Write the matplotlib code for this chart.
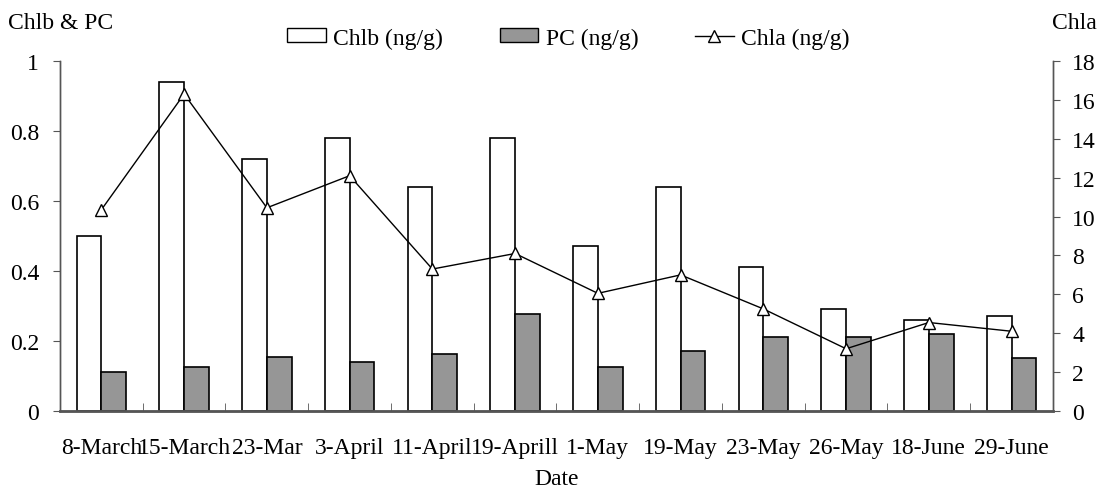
import matplotlib
matplotlib.use("Agg")
import matplotlib.pyplot as plt
import numpy as np
from matplotlib.patches import Patch
from matplotlib.lines import Line2D

plt.rcParams['font.family'] = ['Liberation Serif', 'DejaVu Serif']

dates = ["8-March", "15-March", "23-Mar", "3-April", "11-April", "19-Aprill",
         "1-May", "19-May", "23-May", "26-May", "18-June", "29-June"]
chlb = [0.50, 0.94, 0.72, 0.78, 0.64, 0.78, 0.47, 0.64, 0.41, 0.29, 0.26, 0.27]
pc = [0.11, 0.127, 0.155, 0.139, 0.164, 0.277, 0.127, 0.171, 0.212, 0.212, 0.22, 0.15]
chla = [10.35, 16.3, 10.45, 12.1, 7.3, 8.1, 6.05, 7.0, 5.25, 3.2, 4.55, 4.1]
left_ticks = [0, 0.2, 0.4, 0.6, 0.8, 1.0]
left_labels = ["0", "0.2", "0.4", "0.6", "0.8", "1"]
right_ticks = [0, 2, 4, 6, 8, 10, 12, 14, 16, 18]

FS = 17
fig = plt.figure(figsize=(10.99, 4.89), dpi=100)
ax = fig.add_axes([0.0546, 0.1575, 0.9035, 0.7157])
ax2 = ax.twinx()

x = np.arange(len(dates))
w = 0.3
spine_c = '#555555'
ax.bar(x - w/2, chlb, width=w, color='white', edgecolor='black', linewidth=1.2, zorder=2)
ax.bar(x + w/2, pc, width=w, color='#969696', edgecolor='black', linewidth=1.2, zorder=2)
ax2.plot(x, chla, color='black', linewidth=1.0, marker='^', markersize=9,
         markerfacecolor='white', markeredgecolor='black', markeredgewidth=1.0)

ax.set_xlim(-0.5, len(dates) - 0.5)
ax.set_ylim(0, 1)
ax2.set_ylim(0, 18)

ax.set_yticks(left_ticks)
ax.set_yticklabels(left_labels, fontsize=FS)
ax2.set_yticks(right_ticks)
ax2.set_yticklabels([str(t) for t in right_ticks], fontsize=FS)

ax.set_xticks(x)
ax.set_xticklabels(dates, fontsize=FS)
ax.set_xticks(np.arange(-0.5, len(dates)), minor=True)
ax.tick_params(axis='x', which='major', length=0, pad=19)
ax.tick_params(axis='x', which='minor', direction='in', length=6, color=spine_c)
ax.tick_params(axis='y', direction='out', length=5, color=spine_c, pad=10)
ax2.tick_params(axis='y', direction='out', length=5, color=spine_c, pad=9)

for a in (ax, ax2):
    a.spines['top'].set_visible(False)
    for s in ('left', 'right', 'bottom'):
        a.spines[s].set_color(spine_c)
        a.spines[s].set_linewidth(1.0)
ax.spines['bottom'].set_linewidth(2.0)

ax.set_xlabel("Date", fontsize=FS, labelpad=7)
fig.text(0.007, 0.952, "Chlb & PC", fontsize=FS, ha='left', va='center')
fig.text(0.998, 0.952, "Chla", fontsize=FS, ha='right', va='center')

handles = [Patch(facecolor='white', edgecolor='black', label='Chlb (ng/g)'),
           Patch(facecolor='#969696', edgecolor='black', label='PC (ng/g)'),
           Line2D([0], [0], color='black', linewidth=1.0, marker='^', markersize=8,
                  markerfacecolor='white', markeredgecolor='black', label='Chla (ng/g)')]
fig.legend(handles=handles, loc='center', bbox_to_anchor=(0.517, 0.92), ncol=3,
           frameon=False, fontsize=FS, columnspacing=2.4, handlelength=1.65,
           handletextpad=0.3, handleheight=0.55)

fig.savefig("out.png", dpi=100)
